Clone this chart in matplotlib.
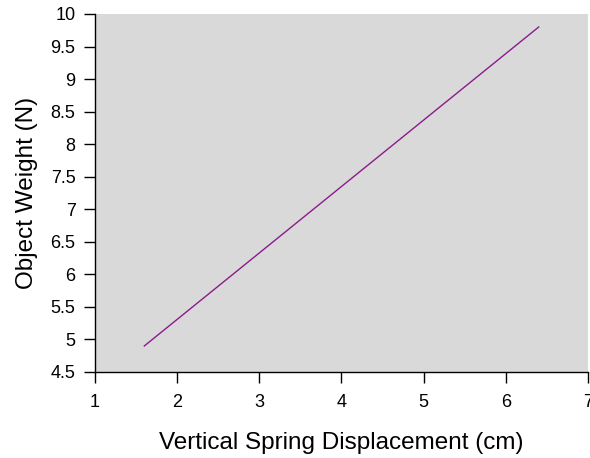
import matplotlib
matplotlib.use("Agg")
import matplotlib.pyplot as plt

plt.rcParams['font.family'] = ['Liberation Sans', 'DejaVu Sans']

displacement = [1.6, 6.4]
weight = [4.9, 9.8]
xticks = [1, 2, 3, 4, 5, 6, 7]
yticks = [4.5, 5, 5.5, 6, 6.5, 7, 7.5, 8, 8.5, 9, 9.5, 10]

fig = plt.figure(figsize=(5.9, 4.58), dpi=100)
ax = fig.add_axes([95/590, 1-372/458, (588-95)/590, (372-14)/458])
ax.set_facecolor('#d9d9d9')
ax.plot(displacement, weight, color='#8b1a8b', lw=1.0)
ax.set_xlim(1, 7)
ax.set_ylim(4.5, 10)
ax.set_xticks(xticks)
ax.set_xticklabels([f"{v:g}" for v in xticks])
ax.set_yticks(yticks)
ax.set_yticklabels([f"{v:g}" for v in yticks])
for s in ['top', 'right']:
    ax.spines[s].set_visible(False)
for s in ['left', 'bottom']:
    ax.spines[s].set_linewidth(1.0)
ax.tick_params(direction='out', length=8, width=1.0, labelsize=13, pad=6)
ax.tick_params(axis='x', pad=8)
ax.set_xlabel('Vertical Spring Displacement (cm)', fontsize=17.5, labelpad=15)
ax.set_ylabel('Object Weight (N)', fontsize=17.5, labelpad=9)
fig.savefig('out.png', dpi=100)
